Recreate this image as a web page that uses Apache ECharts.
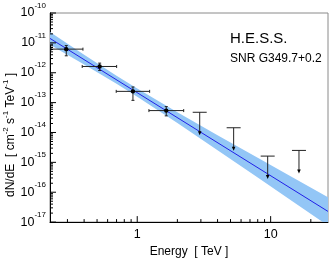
<!DOCTYPE html>
<html><head><meta charset="utf-8">
<script src="https://cdn.jsdelivr.net/npm/echarts@6/dist/echarts.min.js"></script>
<style>html,body{margin:0;padding:0;background:#fff}#c{width:332px;height:263px}</style>
</head><body><div id="c"></div>
<script>
// ---- data ----
const pointE    = [0.294, 0.523, 0.929, 1.65];
const pointELo  = [0.226, 0.387, 0.696, 1.224];
const pointEHi  = [0.392, 0.701, 1.239, 2.23];
const pointF    = [6.17e-12, 1.62e-12, 2.38e-13, 5.41e-14];
const pointFHi  = [8.13e-12, 2.10e-12, 3.34e-13, 7.36e-14];
const pointFLo  = [3.69e-12, 1.19e-12, 1.19e-13, 3.60e-14];
const ulE       = [2.94, 5.28, 9.5, 16.3];
const ulF       = [4.75e-14, 1.44e-14, 1.62e-15, 2.51e-15];
const fitE      = [0.222, 26.9];
const fitF      = [1.41e-11, 2.28e-17];
const bandE     = [0.222, 0.4, 0.7, 1, 2, 4, 8, 15, 26.9];
const bandUpper = [2.31e-11, 3.97e-12, 7.89e-13, 2.94e-13, 4.73e-14, 8.07e-15, 1.42e-15, 2.94e-16, 6.82e-17];
const bandLower = [8.65e-12, 1.89e-12, 4.26e-13, 1.57e-13, 2.07e-14, 2.56e-15, 3.11e-16, 4.55e-17, 7.59e-18];
const xTickLabels = ['1', '10'];
const xMinorTicks = [0.3, 0.4, 0.5, 0.6, 0.7, 0.8, 0.9, 2, 3, 4, 5, 6, 7, 8, 9, 20];
const yExponents  = [-17, -16, -15, -14, -13, -12, -11, -10];
const xMin = 0.222, xMax = 26.9, yMin = 1e-17, yMax = 1e-10;

const FONT = "'Liberation Sans', Arial, sans-serif";
const chart = echarts.init(document.getElementById('c'), null, {renderer: 'canvas'});

const yMinorTicks = [];
for (let i = 0; i < yExponents.length - 1; i++) {
  for (let k = 2; k <= 9; k++) yMinorTicks.push(k * Math.pow(10, yExponents[i]));
}
const yMajorTicks = yExponents.map(e => Math.pow(10, e));
const xMajorTicks = xTickLabels.map(Number);

const supRich = {
  b: {fontSize: 12.5, fontFamily: FONT, color: '#000', lineHeight: 13, verticalAlign: 'bottom'},
  e: {fontSize: 8, fontFamily: FONT, color: '#000', lineHeight: 9, verticalAlign: 'bottom', padding: [0, 0, 10, 0]}
};
const titleRich = {
  t: {fontSize: 12, fontFamily: FONT, color: '#000', lineHeight: 13, verticalAlign: 'bottom'},
  e: {fontSize: 8, fontFamily: FONT, color: '#000', lineHeight: 9, verticalAlign: 'bottom', padding: [0, 0, 7, 0]}
};

const option = {
  animation: false,
  grid: {left: 50, top: 13, right: 4, bottom: 40, show: true, borderColor: '#8a8a8a', borderWidth: 1, containLabel: false},
  xAxis: {
    type: 'log', logBase: 10, min: xMin, max: xMax,
    axisLine: {lineStyle: {color: '#000', width: 1}},
    axisTick: {show: false}, splitLine: {show: false}, minorTick: {show: false},
    axisLabel: {
      margin: 6, fontSize: 12.5, fontFamily: FONT, color: '#000',
      showMinLabel: true, showMaxLabel: true,
      formatter: v => {
        for (const l of xTickLabels) if (Math.abs(Math.log10(v) - Math.log10(+l)) < 1e-6) return l;
        return '';
      }
    },
    name: 'Energy  [ TeV ]', nameLocation: 'middle', nameGap: 21,
    nameTextStyle: {fontSize: 12, fontFamily: FONT, color: '#000'}
  },
  yAxis: {
    type: 'log', logBase: 10, min: yMin, max: yMax, interval: 1, splitNumber: 7,
    axisLine: {lineStyle: {color: '#000', width: 1}},
    axisTick: {show: false}, splitLine: {show: false},
    axisLabel: {
      margin: 4, rich: supRich,
      formatter: v => '{b|10}{e|' + Math.round(Math.log10(v)) + '}'
    }
  },
  graphic: [
    {type: 'text', x: 230, y: 31, style: {text: 'H.E.S.S.', font: '15px ' + FONT, fill: '#000'}},
    {type: 'text', x: 230, y: 53, style: {text: 'SNR G349.7+0.2', font: '12px ' + FONT, fill: '#000'}},
    {type: 'text', x: 11, y: 135, rotation: Math.PI / 2,
     style: {text: 'dN/dE  [ cm{e|-2} s{e|-1} TeV{e|-1} ]', rich: titleRich, align: 'center', verticalAlign: 'middle', fontSize: 12, fontFamily: FONT, fill: '#000'}}
  ],
  series: [
    {
      type: 'custom', name: 'band', clip: true, z: 1,
      data: [[1, 1e-13]],
      renderItem: (params, api) => {
        const pts = [];
        for (let i = 0; i < bandE.length; i++) pts.push(api.coord([bandE[i], bandUpper[i]]));
        for (let i = bandE.length - 1; i >= 0; i--) pts.push(api.coord([bandE[i], bandLower[i]]));
        return {type: 'polygon', shape: {points: pts}, style: {fill: '#93c6f6', stroke: null}};
      }
    },
    {
      type: 'line', name: 'fit', z: 2, symbol: 'none', silent: true,
      data: fitE.map((e, i) => [e, fitF[i]]),
      lineStyle: {color: '#2020e8', width: 1}
    },
    {
      type: 'custom', name: 'points', z: 3, clip: false,
      data: pointE.map((e, i) => [e, pointF[i], pointELo[i], pointEHi[i], pointFLo[i], pointFHi[i]]),
      renderItem: (params, api) => {
        const c = api.coord([api.value(0), api.value(1)]);
        const l = api.coord([api.value(2), api.value(1)]);
        const r = api.coord([api.value(3), api.value(1)]);
        const lo = api.coord([api.value(0), api.value(4)]);
        const hi = api.coord([api.value(0), api.value(5)]);
        const st = {stroke: '#222', lineWidth: 1};
        const h = 1.5;
        return {type: 'group', children: [
          {type: 'line', shape: {x1: l[0], y1: c[1], x2: r[0], y2: c[1]}, style: st},
          {type: 'line', shape: {x1: l[0], y1: c[1] - h, x2: l[0], y2: c[1] + h}, style: st},
          {type: 'line', shape: {x1: r[0], y1: c[1] - h, x2: r[0], y2: c[1] + h}, style: st},
          {type: 'line', shape: {x1: c[0], y1: lo[1], x2: c[0], y2: hi[1]}, style: st},
          {type: 'line', shape: {x1: c[0] - h, y1: lo[1], x2: c[0] + h, y2: lo[1]}, style: st},
          {type: 'line', shape: {x1: c[0] - h, y1: hi[1], x2: c[0] + h, y2: hi[1]}, style: st},
          {type: 'circle', shape: {cx: c[0], cy: c[1], r: 2.2}, style: {fill: '#000'}}
        ]};
      }
    },
    {
      type: 'custom', name: 'upper limits', z: 3, clip: false,
      data: ulE.map((e, i) => [e, ulF[i]]),
      renderItem: (params, api) => {
        const c = api.coord([api.value(0), api.value(1)]);
        const st = {stroke: '#222', lineWidth: 1};
        const len = 22;
        return {type: 'group', children: [
          {type: 'line', shape: {x1: c[0] - 7, y1: c[1], x2: c[0] + 7, y2: c[1]}, style: st},
          {type: 'line', shape: {x1: c[0], y1: c[1], x2: c[0], y2: c[1] + len - 2}, style: st},
          {type: 'polygon', shape: {points: [[c[0] - 1.8, c[1] + len - 3], [c[0] + 1.8, c[1] + len - 3], [c[0], c[1] + len + 1]]}, style: {fill: '#000'}}
        ]};
      }
    },
    {
      type: 'custom', name: 'ticks', z: 4, clip: false, silent: true,
      data: [[1, 1e-13]],
      renderItem: (params, api) => {
        const ch = [];
        const st = {stroke: '#000', lineWidth: 1};
        xMajorTicks.forEach(v => { const p = api.coord([v, yMin]); ch.push({type: 'line', shape: {x1: p[0], y1: p[1], x2: p[0], y2: p[1] - 6}, style: st}); });
        xMinorTicks.forEach(v => { const p = api.coord([v, yMin]); ch.push({type: 'line', shape: {x1: p[0], y1: p[1], x2: p[0], y2: p[1] - 3}, style: st}); });
        yMajorTicks.forEach(v => { const p = api.coord([xMin, v]); ch.push({type: 'line', shape: {x1: p[0], y1: p[1], x2: p[0] + 6, y2: p[1]}, style: st}); });
        yMinorTicks.forEach(v => { const p = api.coord([xMin, v]); ch.push({type: 'line', shape: {x1: p[0], y1: p[1], x2: p[0] + 3, y2: p[1]}, style: st}); });
        return {type: 'group', children: ch};
      }
    }
  ]
};
chart.setOption(option);
</script>
</body></html>
